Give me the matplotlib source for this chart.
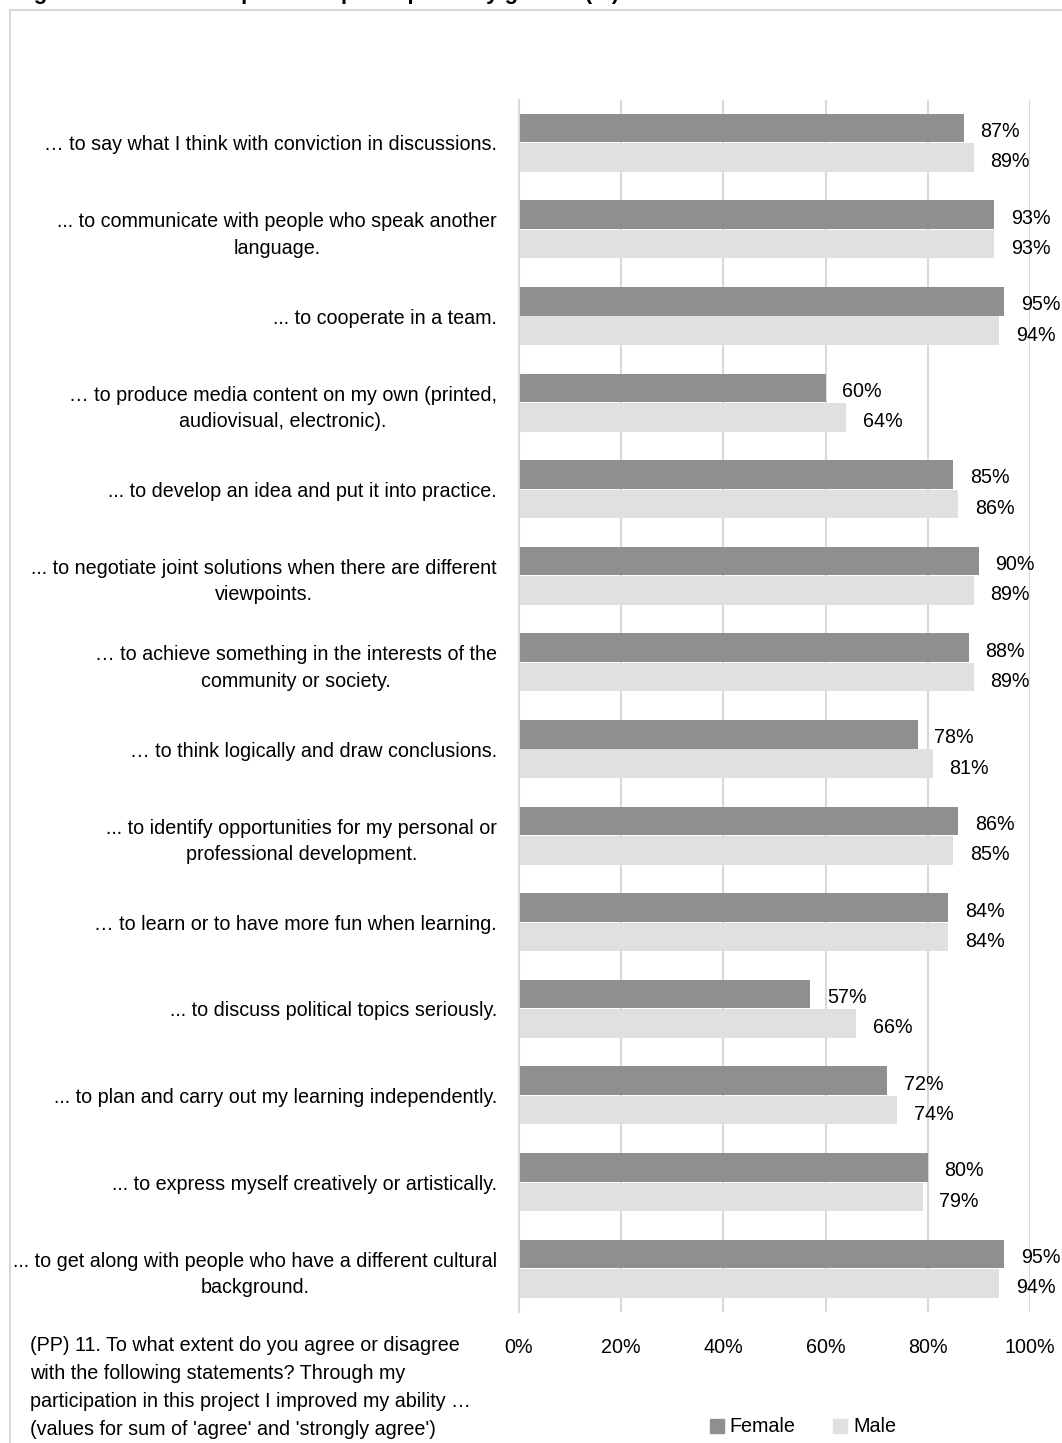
import numpy as np
import matplotlib.pyplot as plt
from matplotlib.lines import Line2D
from matplotlib.patches import Patch

plt.rcParams['font.family'] = ['Liberation Sans', 'DejaVu Sans']

# data
labels = [
    "\u2026 to say what I think with conviction in discussions.",
    "... to communicate with people who speak another\nlanguage.",
    "... to cooperate in a team.",
    "\u2026 to produce media content on my own (printed,\naudiovisual, electronic).",
    "... to develop an idea and put it into practice.",
    "... to negotiate joint solutions when there are different\nviewpoints.",
    "\u2026 to achieve something in the interests of the\ncommunity or society.",
    "\u2026 to think logically and draw conclusions.",
    "... to identify opportunities for my personal or\nprofessional development.",
    "\u2026 to learn or to have more fun when learning.",
    "... to discuss political topics seriously.",
    "... to plan and carry out my learning independently.",
    "... to express myself creatively or artistically.",
    "... to get along with people who have a different cultural\nbackground.",
]
female = [87, 93, 95, 60, 85, 90, 88, 78, 86, 84, 57, 72, 80, 95]
male = [89, 93, 94, 64, 86, 89, 89, 81, 85, 84, 66, 74, 79, 94]
xticks = [0, 20, 40, 60, 80, 100]
xtick_labels = ['0%', '20%', '40%', '60%', '80%', '100%']

title = "Figure 11: The development of participants by gender (%)"
note = ("(PP) 11. To what extent do you agree or disagree\n"
        "with the following statements? Through my\n"
        "participation in this project I improved my ability \u2026\n"
        "(values for sum of 'agree' and 'strongly agree')")

col_f = '#8f8f8f'
col_m = '#e0e0e0'
grid_col = '#d9d9d9'
fs = 14.2

W, H = 1062, 1443
fig = plt.figure(figsize=(W / 100, H / 100), dpi=100)
ax = fig.add_axes([519 / W, 1 - 1312 / H, 511 / W, (1312 - 99.5) / H])

y = np.arange(len(labels))
bh = 0.33
ax.barh(y - 0.17, female, height=bh, color=col_f, zorder=3)
ax.barh(y + 0.17, male, height=bh, color=col_m, zorder=3)

for i in range(len(labels)):
    ax.annotate(f"{female[i]}%", (female[i], y[i] - 0.13), xytext=(12, 0),
                textcoords='offset points', va='center', ha='left', fontsize=fs)
    ax.annotate(f"{male[i]}%", (male[i], y[i] + 0.22), xytext=(12, 0),
                textcoords='offset points', va='center', ha='left', fontsize=fs)

ax.set_xlim(0, 100)
ax.set_ylim(len(labels) - 0.5, -0.5)
ax.set_xticks(xticks)
ax.set_xticklabels(xtick_labels, fontsize=fs)
ax.set_yticks(y)
ax.set_yticklabels(labels, fontsize=fs, multialignment='center', linespacing=1.5)
ax.tick_params(axis='y', length=0, pad=16)
ax.tick_params(axis='x', length=0, pad=19)
ax.grid(axis='x', color=grid_col, linewidth=1.5, zorder=0)
for s in ['top', 'right', 'bottom']:
    ax.spines[s].set_visible(False)
ax.spines['left'].set_color(grid_col)
ax.spines['left'].set_linewidth(1.5)
ax.spines['left'].set_zorder(4)
ax.set_facecolor('none')

# frame around the chart area
fig.add_artist(Line2D([10 / W, 1], [1 - 10 / H, 1 - 10 / H], color=grid_col, lw=1.5))
fig.add_artist(Line2D([10 / W, 10 / W], [0, 1 - 10 / H], color=grid_col, lw=1.5))

fig.text(14 / W, 1 + 0.5 / H, title, fontsize=16, fontweight='bold', va='baseline', ha='left')

fig.text(30 / W, 1 - 1336 / H, note, fontsize=fs, va='top', ha='left', linespacing=1.6)

handles = [Patch(color=col_f, label='Female'), Patch(color=col_m, label='Male')]
fig.legend(handles=handles, loc='center', bbox_to_anchor=(803 / W, 1 - 1427 / H), ncol=2,
           frameon=False, fontsize=fs, handlelength=0.7, handleheight=0.7,
           handletextpad=0.3, columnspacing=1.9)

fig.savefig('out.png', dpi=100)
